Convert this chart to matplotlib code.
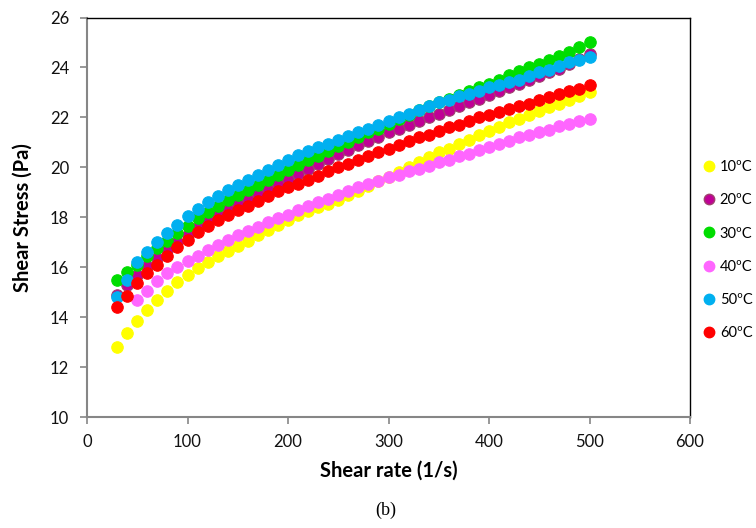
import numpy as np
import matplotlib.pyplot as plt
from matplotlib.lines import Line2D

# Shear rate (1/s) at which each temperature was read
shear_rate = [30, 40, 50, 60, 70, 80, 90, 100, 110, 120, 130, 140, 150, 160,
              170, 180, 190, 200, 210, 220, 230, 240, 250, 260, 270, 280, 290,
              300, 310, 320, 330, 340, 350, 360, 370, 380, 390, 400, 410, 420,
              430, 440, 450, 460, 470, 480, 490, 500]

# Shear stress (Pa) per temperature
t10 = [12.8, 13.35, 13.85, 14.3, 14.7, 15.05, 15.4, 15.7, 15.95, 16.2, 16.45,
       16.65, 16.85, 17.05, 17.3, 17.5, 17.7, 17.9, 18.1, 18.25, 18.4, 18.55,
       18.7, 18.9, 19.05, 19.25, 19.45, 19.6, 19.8, 20.0, 20.2, 20.4, 20.6,
       20.75, 20.95, 21.1, 21.3, 21.45, 21.6, 21.8, 21.95, 22.1, 22.25, 22.4,
       22.55, 22.7, 22.85, 23.0]
t20 = [14.9, 15.3, 15.7, 16.05, 16.35, 16.7, 17.0, 17.3, 17.6, 17.85, 18.1,
       18.35, 18.55, 18.75, 18.95, 19.15, 19.35, 19.55, 19.75, 19.95, 20.15,
       20.35, 20.55, 20.7, 20.9, 21.05, 21.2, 21.4, 21.55, 21.7, 21.85, 22.0,
       22.15, 22.3, 22.45, 22.6, 22.75, 22.9, 23.05, 23.2, 23.35, 23.5, 23.65,
       23.8, 23.95, 24.15, 24.35, 24.55]
t30 = [15.5, 15.8, 16.1, 16.45, 16.75, 17.05, 17.35, 17.65, 17.95, 18.2, 18.45,
       18.7, 18.9, 19.1, 19.3, 19.5, 19.7, 19.9, 20.1, 20.3, 20.45, 20.65,
       20.85, 21.0, 21.2, 21.4, 21.55, 21.75, 21.95, 22.1, 22.3, 22.45, 22.6,
       22.75, 22.9, 23.05, 23.2, 23.35, 23.5, 23.7, 23.85, 24.0, 24.15, 24.3,
       24.45, 24.6, 24.8, 25.0]
t40 = [np.nan, np.nan, 14.7, 15.05, 15.45, 15.75, 16.0, 16.25, 16.45, 16.7,
       16.9, 17.1, 17.3, 17.45, 17.6, 17.8, 17.95, 18.1, 18.3, 18.45, 18.6,
       18.75, 18.9, 19.05, 19.2, 19.35, 19.45, 19.6, 19.7, 19.85, 19.95, 20.05,
       20.2, 20.3, 20.45, 20.55, 20.7, 20.8, 20.95, 21.05, 21.2, 21.3, 21.4,
       21.5, 21.65, 21.75, 21.85, 21.95]
t50 = [14.8, 15.5, 16.2, 16.6, 17.0, 17.35, 17.7, 18.05, 18.35, 18.6, 18.85,
       19.1, 19.3, 19.5, 19.7, 19.9, 20.1, 20.3, 20.5, 20.65, 20.8, 20.95,
       21.1, 21.25, 21.4, 21.55, 21.7, 21.85, 22.0, 22.15, 22.3, 22.45, 22.6,
       22.7, 22.85, 22.95, 23.05, 23.2, 23.3, 23.4, 23.5, 23.65, 23.8, 23.9,
       24.05, 24.2, 24.3, 24.4]
t60 = [14.4, 14.85, 15.35, 15.75, 16.1, 16.45, 16.8, 17.1, 17.4, 17.65, 17.9,
       18.1, 18.3, 18.45, 18.65, 18.85, 19.05, 19.2, 19.35, 19.5, 19.65, 19.85,
       20.0, 20.15, 20.3, 20.45, 20.6, 20.75, 20.9, 21.05, 21.2, 21.3, 21.45,
       21.6, 21.7, 21.85, 22.0, 22.1, 22.2, 22.35, 22.45, 22.55, 22.7, 22.8,
       22.95, 23.05, 23.15, 23.3]

labels = ['10ºC', '20ºC', '30ºC', '40ºC', '50ºC', '60ºC']
series = [t10, t20, t30, t40, t50, t60]
colors = ['#FFFF00', '#C00096', '#00DD00', '#FF66FF', '#00B0F0', '#FF0000']
edges  = ['#FFFF00', '#A0406E', '#00DD00', '#FF66FF', '#00B0F0', '#FF0000']

plt.rcParams['font.family'] = ['Lato', 'DejaVu Sans']

fig = plt.figure(figsize=(7.56, 5.28), dpi=100)
ax = fig.add_axes([87 / 756, 1 - 417 / 528, 603 / 756, 399.5 / 528])

for y, c, e in zip(series, colors, edges):
    ax.scatter(shear_rate, y, s=68, c=c, edgecolors=e, linewidths=0.8,
               clip_on=False, zorder=3)

ax.set_xlim(0, 600)
ax.set_ylim(10, 26)
ax.set_xticks(range(0, 601, 100))
ax.set_yticks(range(10, 27, 2))

for side in ['left', 'bottom']:
    ax.spines[side].set_color('#868686')
    ax.spines[side].set_linewidth(1.5)
for side in ['top', 'right']:
    ax.spines[side].set_color('black')
    ax.spines[side].set_linewidth(1.0)
ax.tick_params(direction='out', length=5, width=1.2, color='#868686',
               labelsize=12, labelcolor='#111111')
ax.tick_params(axis='y', pad=8)
ax.tick_params(axis='x', pad=7)

ax.set_xlabel('Shear rate (1/s)', fontsize=14.5, fontweight='bold', labelpad=8)
ax.set_ylabel('Shear Stress (Pa)', fontsize=14.5, fontweight='bold', labelpad=12)

handles = [Line2D([], [], linestyle='none', marker='o', markersize=7.5,
                  markerfacecolor=c, markeredgecolor=e) for c, e in zip(colors, edges)]
fig.legend(handles, labels, loc='upper left', bbox_to_anchor=(703 / 756, 1 - 160 / 528),
           frameon=False, fontsize=10.5, labelspacing=1.32, handlelength=0.8,
           handletextpad=0.35, borderaxespad=0, borderpad=0)

fig.text(386 / 756, 1 - 510 / 528, '(b)', fontsize=13, family='Liberation Serif',
         ha='center', va='center')

fig.savefig('out.png', dpi=100)
